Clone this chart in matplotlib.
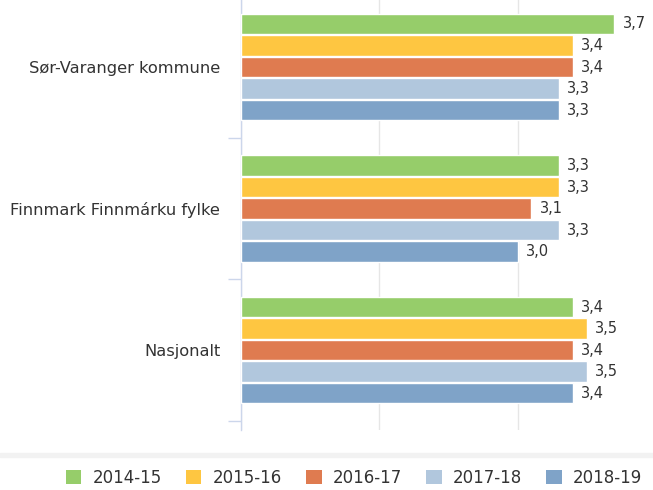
import numpy as np
import matplotlib.pyplot as plt
from matplotlib.patches import Patch, Rectangle

categories = ['Sør-Varanger kommune', 'Finnmark Finnmárku fylke', 'Nasjonalt']
series = ['2014-15', '2015-16', '2016-17', '2017-18', '2018-19']
values = {
    '2014-15': [3.7, 3.3, 3.4],
    '2015-16': [3.4, 3.3, 3.5],
    '2016-17': [3.4, 3.1, 3.4],
    '2017-18': [3.3, 3.3, 3.5],
    '2018-19': [3.3, 3.0, 3.4],
}
colors = ['#96cd6a', '#fec641', '#df7b50', '#b1c7dd', '#7fa3c8']

text_col = '#333333'
axis_col = '#ccd6eb'

fig = plt.figure(figsize=(6.53, 4.90), dpi=100)
# plot area: left edge at 241px, bottom at 430px
ax = fig.add_axes([241 / 653, 60 / 490, 1 - 241 / 653, 430 / 490])

y = np.arange(len(categories))
step = 0.152
bar_h = 0.145
for i, (s, c) in enumerate(zip(series, colors)):
    pos = y + (i - 2) * step
    vals = values[s]
    ax.barh(pos, [v - 1 for v in vals], left=1, height=bar_h, color=c,
            edgecolor='white', linewidth=1, zorder=3)
    for p, v in zip(pos, vals):
        ax.annotate(f'{v:.1f}'.replace('.', ','), (v, p), xytext=(6, 0),
                    textcoords='offset points', va='center', ha='left',
                    fontsize=10.5, color=text_col)

ax.set_xlim(1, 1 + (653 - 241) / 138.3)
ax.set_ylim(2.565, -0.4735)

ax.set_xticks([1, 2, 3])
ax.tick_params(axis='x', length=0, labelbottom=False)
ax.grid(axis='x', color='#e6e6e6', linewidth=1, zorder=0)

ax.set_yticks(y)
ax.set_yticklabels(categories, fontsize=11.7, color=text_col)
ax.tick_params(axis='y', which='major', length=0, pad=15)
ax.set_yticks([0.5, 1.5, 2.5], minor=True)
ax.tick_params(axis='y', which='minor', length=9.5, width=1, color=axis_col)

for side in ['top', 'right', 'bottom']:
    ax.spines[side].set_visible(False)
ax.spines['left'].set_color(axis_col)
ax.spines['left'].set_linewidth(1)

# thin grey band above the legend
fig.patches.append(Rectangle((0, (490 - 457) / 490), 1, 4 / 490,
                             transform=fig.transFigure, color='#f2f2f2',
                             zorder=0))

handles = [Patch(facecolor=c, edgecolor='none') for c in colors]
fig.legend(handles, series, loc='center left', ncol=5,
           bbox_to_anchor=(66 / 653, 12 / 490), frameon=False,
           fontsize=12, labelcolor=text_col, handlelength=0.92,
           handleheight=0.92, handletextpad=0.68, columnspacing=1.45,
           borderaxespad=0, borderpad=0)

fig.savefig('out.png', dpi=100)
